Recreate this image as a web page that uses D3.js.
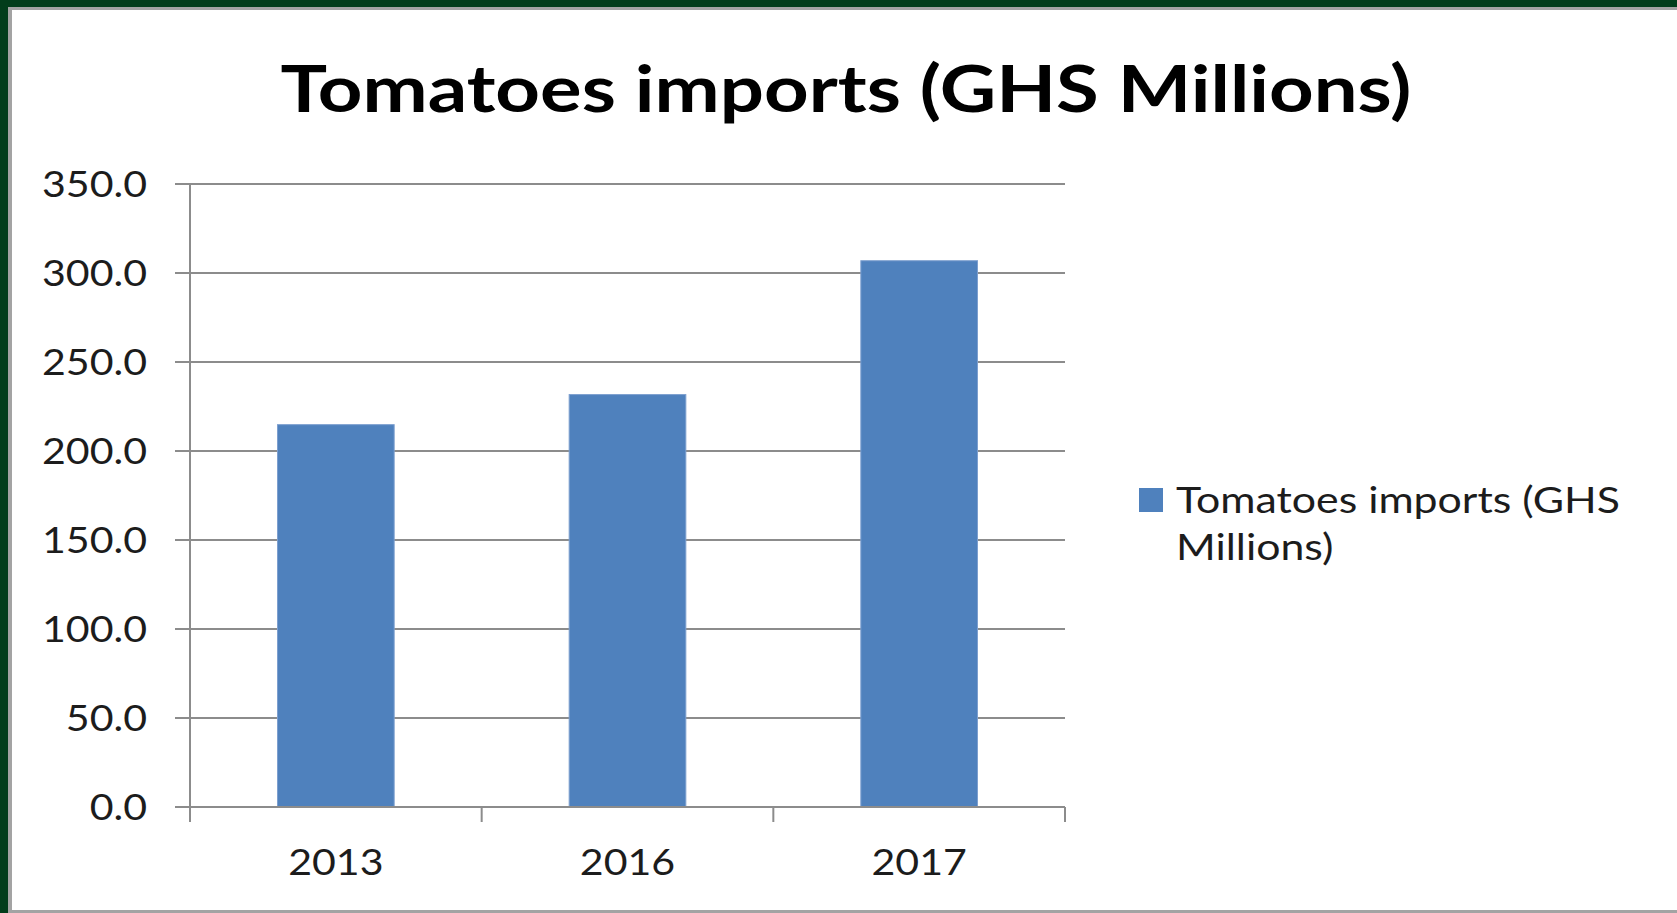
<!DOCTYPE html>
<html>
<head>
<meta charset="utf-8">
<script src="https://cdn.jsdelivr.net/npm/d3@7"></script>
<style>
  html, body { margin: 0; padding: 0; background: #ffffff; overflow: hidden; }
  svg { display: block; }
</style>
</head>
<body>
<svg id="chart" width="1677" height="913"></svg>
<script>
// ---- data ----
const chartTitle = "Tomatoes imports (GHS Millions)";
const years = ["2013", "2016", "2017"];
const imports = [214.8, 231.7, 306.9];
const yTicks = [0, 50, 100, 150, 200, 250, 300, 350];
const legendLines = ["Tomatoes imports (GHS", "Millions)"];

// ---- layout ----
const W = 1677, H = 913;
const plot = { left: 190, right: 1065, top: 184, bottom: 807 };
const font = "Lato, 'Open Sans', sans-serif";
const textColor = "#1c1c1c";
const gridColor = "#8c8c8c";
const barColor = "#4f81bd";

const svg = d3.select("#chart");

// stretch a text element horizontally to a given width
function fitWidth(node, target) {
  node.setAttribute("textLength", target);
  node.setAttribute("lengthAdjust", "spacingAndGlyphs");
}

// ---- frame ----
svg.append("rect").attr("x", 0).attr("y", 0).attr("width", W).attr("height", H).attr("fill", "#023d1b");
svg.append("rect").attr("x", 8).attr("y", 7).attr("width", W - 8).attr("height", H - 7).attr("fill", "#a3a3a3");
svg.append("rect").attr("x", 12).attr("y", 10).attr("width", W - 12).attr("height", 900).attr("fill", "#ffffff");

// ---- scales ----
const x = d3.scaleBand().domain(years).range([plot.left, plot.right])
  .paddingInner(0.6).paddingOuter(0.3);
const y = d3.scaleLinear().domain([0, 350]).range([plot.bottom, plot.top]);

// ---- gridlines ----
svg.append("g")
  .selectAll("line")
  .data(yTicks)
  .join("line")
  .attr("x1", plot.left - 15)
  .attr("x2", plot.right)
  .attr("y1", d => y(d))
  .attr("y2", d => y(d))
  .attr("stroke", gridColor)
  .attr("stroke-width", 2);

// ---- bars ----
svg.append("g")
  .selectAll("rect")
  .data(years)
  .join("rect")
  .attr("x", d => x(d))
  .attr("width", x.bandwidth())
  .attr("y", (d, i) => y(imports[i]))
  .attr("height", (d, i) => y(0) - y(imports[i]))
  .attr("fill", barColor)
  .attr("stroke", "#7d9fcf")
  .attr("stroke-width", 1);

// ---- axes lines ----
svg.append("line")
  .attr("x1", plot.left).attr("x2", plot.left)
  .attr("y1", plot.top).attr("y2", plot.bottom + 15)
  .attr("stroke", gridColor).attr("stroke-width", 2);
svg.append("line")
  .attr("x1", plot.left - 15).attr("x2", plot.right)
  .attr("y1", plot.bottom).attr("y2", plot.bottom)
  .attr("stroke", gridColor).attr("stroke-width", 2);

// category boundary ticks on the x axis
const step = x.step();
const bounds = d3.range(years.length + 1).map(i => plot.left + i * step);
svg.append("g")
  .selectAll("line")
  .data(bounds)
  .join("line")
  .attr("x1", d => d).attr("x2", d => d)
  .attr("y1", plot.bottom).attr("y2", plot.bottom + 15)
  .attr("stroke", gridColor).attr("stroke-width", 2);

// ---- y tick labels ----
const yLabels = svg.append("g")
  .selectAll("text")
  .data(yTicks)
  .join("text")
  .attr("x", 147)
  .attr("y", d => y(d) + 13)
  .attr("text-anchor", "end")
  .attr("font-family", font)
  .attr("font-size", 37)
  .attr("fill", textColor)
  .text(d => d3.format(".1f")(d));
// all tick labels share one horizontal stretch
const ref350 = yLabels.filter(d => d === 350).node();
const kY = 105 / ref350.getComputedTextLength();
yLabels.each(function () { fitWidth(this, this.getComputedTextLength() * kY); });

// ---- x tick labels ----
const xLabels = svg.append("g")
  .selectAll("text")
  .data(years)
  .join("text")
  .attr("x", d => x(d) + x.bandwidth() / 2)
  .attr("y", 875)
  .attr("text-anchor", "middle")
  .attr("font-family", font)
  .attr("font-size", 37)
  .attr("fill", textColor)
  .text(d => d);
xLabels.each(function () { fitWidth(this, this.getComputedTextLength() * kY); });

// ---- title ----
const t = svg.append("text")
  .attr("x", 846)
  .attr("y", 112)
  .attr("text-anchor", "middle")
  .attr("font-family", font)
  .attr("font-weight", 700)
  .attr("font-size", 65)
  .attr("fill", "#000000")
  .text(chartTitle);
fitWidth(t.node(), 1131);

// ---- legend ----
svg.append("rect")
  .attr("x", 1139).attr("y", 488)
  .attr("width", 24).attr("height", 24)
  .attr("fill", barColor);
const leg = svg.append("g")
  .selectAll("text")
  .data(legendLines)
  .join("text")
  .attr("x", 1176)
  .attr("y", (d, i) => 513 + i * 47)
  .attr("font-family", font)
  .attr("font-size", 37)
  .attr("fill", textColor)
  .text(d => d);
const kL = 444 / leg.node().getComputedTextLength();
leg.each(function () { fitWidth(this, this.getComputedTextLength() * kL); });
</script>
</body>
</html>
